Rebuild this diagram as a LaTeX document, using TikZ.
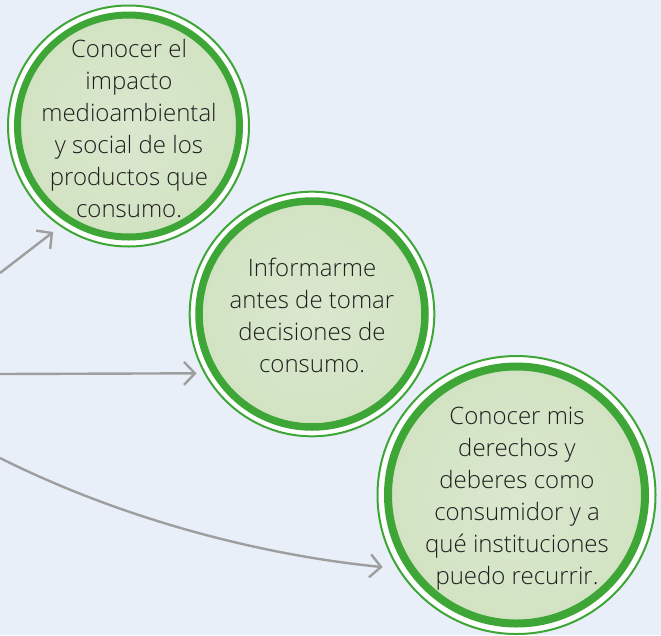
\documentclass[tikz,border=0pt]{standalone}
\usepackage{fontspec}
\setmainfont{Open Sans}[UprightFont=* Light]
\usetikzlibrary{arrows.meta}
\definecolor{cbg}{HTML}{E9EFF9}
\definecolor{cgreen}{HTML}{3EA636}
\definecolor{cfillin}{HTML}{DAE8CE}
\definecolor{cfillout}{HTML}{D2E3C3}
\definecolor{cgray}{HTML}{9E9E9E}
\definecolor{ctext}{HTML}{1E1E1E}
\tikzset{
  ring/.style={circle, draw=cgreen, line width=2pt, fill=white, inner sep=0pt, outer sep=0pt},
  disc/.style={circle, draw=cgreen, inner color=cfillin, outer color=cfillout, inner sep=0pt, outer sep=0pt},
  label text/.style={align=center, inner sep=0pt, text=ctext, font=\fontsize{24}{32}\selectfont},
  link/.style={draw=cgray, line width=2.4pt, -{Straight Barb[length=11pt,width=23pt]}},
}
\begin{document}
\begin{tikzpicture}[x=1pt,y=-1pt]
\fill[cbg] (0,0) rectangle (661,635);
\useasboundingbox (0,0) rectangle (661,635);
% circle 1
\node[ring, minimum size=241pt] (c1) at (128.5,126) {};
\node[disc, minimum size=222pt, line width=7pt] (d1) at (c1) {};
\node[label text] (t1) at (129,128) {Conocer el\\impacto\\medioambiental\\y social de los\\productos que\\consumo.};
% circle 2
\node[ring, minimum size=244.6pt] (c2) at (312,314) {};
\node[disc, minimum size=226pt, line width=7.5pt] (d2) at (c2) {};
\node[label text] (t2) at (312,315) {Informarme\\antes de tomar\\decisiones de\\consumo.};
% circle 3
\node[ring, minimum size=278pt] (c3) at (516.5,495) {};
\node[disc, minimum size=257pt, line width=8pt] (d3) at (c3) {};
\node[label text] (t3) at (517,499) {Conocer mis\\derechos y\\deberes como\\consumidor y a\\qué instituciones\\puedo recurrir.};
% connectors
\coordinate (a1) at (0,273);
\coordinate (a2) at (0,374);
\coordinate (a3) at (0,458);
\draw[link, shorten >=10pt] (a1) -- (c1.236);
\draw[link, shorten >=8.4pt] (a2) -- (c2.209.4);
\draw[link, shorten >=16pt] (a3) .. controls (130,523) and (270,556) .. (c3.212.5);
\end{tikzpicture}
\end{document}
